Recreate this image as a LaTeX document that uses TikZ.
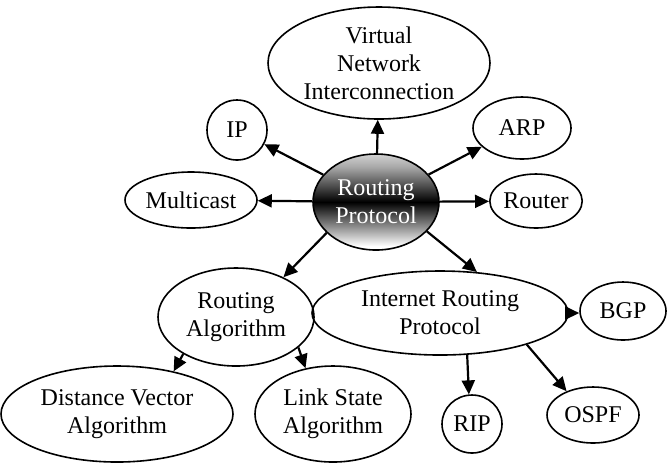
\documentclass[tikz,border=0pt]{standalone}
\usepackage{fontspec}
\setmainfont{Liberation Serif}
\usetikzlibrary{shapes.geometric, arrows.meta}

\pgfdeclareverticalshading{darkband}{100bp}{color(0bp)=(white); color(27bp)=(white);
    color(50bp)=(black); color(68bp)=(gray!70); color(75bp)=(gray!35); color(100bp)=(gray!35)}

\tikzset{
    topic/.style={draw, ellipse, line width=0.8pt, inner sep=0pt, align=center,
        font=\fontsize{12}{14}\selectfont},
    link/.style={line width=1.1pt, -{Triangle[length=7pt, width=6.5pt]}}
}

\begin{document}
\begin{tikzpicture}[x=0.5pt, y=-0.5pt]
        \useasboundingbox (0,0) rectangle (667,463);
        % Draw the centre node
        \node[topic, minimum width=63pt, minimum height=48pt,
            shading=darkband, text=white] (rp) at (376,202) {Routing\\Protocol};
        % Draw the first ring
        \node[topic, minimum width=111pt, minimum height=56pt] (vni) at (379,63)
            {Virtual\\Network\\Interconnection};
        \node[topic, minimum width=30pt, minimum height=30pt] (ip) at (237,130) {IP};
        \node[topic, minimum width=49pt, minimum height=31pt] (arp) at (522,128) {ARP};
        \node[topic, minimum width=66pt, minimum height=28pt] (mc) at (191,200) {Multicast};
        \node[topic, minimum width=42pt, minimum height=27pt] (router) at (536,201) {Router};
        \node[topic, minimum width=78pt, minimum height=49pt] (ra) at (236,317)
            {Routing\\Algorithm};
        \node[topic, minimum width=128pt, minimum height=42pt] (irp) at (440,313)
            {Internet Routing\\Protocol};
        % Draw the leaves
        \node[topic, minimum width=116pt, minimum height=48pt] (dva) at (117,414)
            {Distance Vector\\Algorithm};
        \node[topic, minimum width=78pt, minimum height=48pt] (lsa) at (333,414)
            {Link State\\Algorithm};
        \node[topic, minimum width=43pt, minimum height=29pt] (bgp) at (623,311) {BGP};
        \node[topic, minimum width=30pt, minimum height=29pt] (rip) at (472,424) {RIP};
        \node[topic, minimum width=46pt, minimum height=28pt] (ospf) at (593,415) {OSPF};
        % Draw the arrows
        \draw[link] (rp) -- (vni);
        \draw[link] (rp) -- (ip);
        \draw[link] (rp) -- (arp.205);
        \draw[link] (rp) -- (mc);
        \draw[link] (rp) -- (router);
        \draw[link] (rp.212) -- (ra.40);
        \draw[link] (rp.-30) -- (irp.48);
        \draw[link] (ra.215) -- (dva.37);
        \draw[link] (ra.-26) -- (lsa.121);
        \draw[link] (irp.east) -- (irp.east -| bgp.west);
        \draw[link] (irp.-57) -- (rip.96);
        \draw[link] (irp.-20) -- (ospf.138);
    \end{tikzpicture}
\end{document}
